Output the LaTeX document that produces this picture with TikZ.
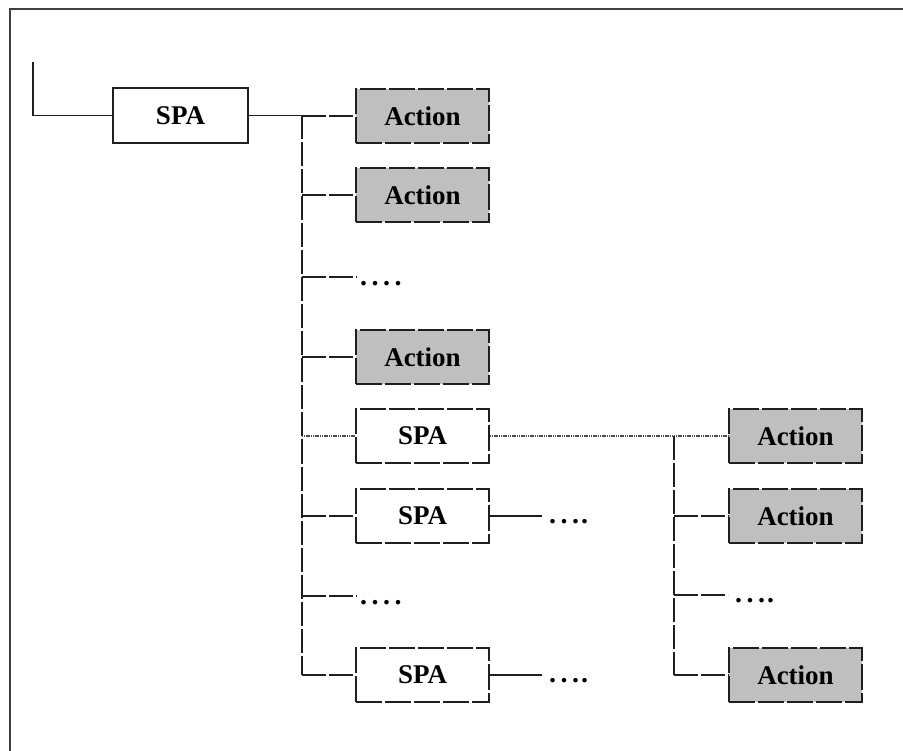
\documentclass[tikz,border=0pt]{standalone}
\usepackage{fontspec}
\setmainfont{Liberation Serif}
\begin{document}
\begin{tikzpicture}[x=1pt,y=-1pt,
  ln/.style={line width=1.9pt, draw=black!88},
  dl/.style={ln, dash pattern=on 24pt off 3pt},
  box/.style={ln, minimum width=133pt, minimum height=54pt, inner sep=0pt,
    font=\fontsize{27}{32}\selectfont\bfseries},
  spabox/.style={box, fill=white, dash pattern=on 26pt off 3pt},
  actbox/.style={box, fill=black!25, dash pattern=on 26pt off 3pt},
  dotsnode/.style={anchor=west, inner sep=0pt, font=\fontsize{28}{32}\selectfont\bfseries},
  fine/.style={line width=1.9pt, draw=black!70, dash pattern=on 1.2pt off 0.6pt}]
\useasboundingbox (0,0) rectangle (903,751);
% outer frame
\draw[line width=2.2pt, draw=black!75] (10,751) -- (10,9) -- (903,9);
% top-level SPA
\node[box, draw, fill=white, minimum width=135pt, minimum height=55pt] (spa0) at (180.5,115.5) {SPA};
\coordinate (in0) at (33,62);
\draw[ln] (in0) |- (spa0.west);
% main trunk
\coordinate (t0) at (302,115.5);
\coordinate (tend) at (302,675);
\draw[ln] (spa0.east) -- (t0);
\draw[dl] (t0) -- (tend);
% children
\node[actbox, draw] (a1) at (422.5,116) {Action};
\node[actbox, draw] (a2) at (422.5,195) {Action};
\node[actbox, draw] (a3) at (422.5,357) {Action};
\node[spabox, draw] (s2) at (422.5,436) {SPA};
\node[spabox, draw] (s3) at (422.5,516) {SPA};
\node[spabox, draw] (s4) at (422.5,675) {SPA};
\coordinate (d1e) at (357,277);
\node[dotsnode] (d1) at (360,284) {.\kern4.5pt.\kern4.5pt.\kern4.5pt.};
\coordinate (d2e) at (357,596);
\node[dotsnode] (d2) at (360,603) {.\kern4.5pt.\kern4.5pt.\kern4.5pt.};
\foreach \n in {a1,a2,a3,s3,s4}{
  \draw[dl] (302,0 |- \n.west) -- (\n.west);
}
\draw[dl] (302,277) -- (d1e);
\draw[dl] (302,596) -- (d2e);
\draw[fine] (302,436) -- (s2.west);
% SPA3 / SPA4 continuations
\coordinate (e3) at (542,516);
\coordinate (e4) at (542,675);
\draw[ln] (s3.east) -- (e3);
\draw[ln] (s4.east) -- (e4);
\node[dotsnode] (d3) at (549,522) {.\kern4.5pt.\kern4.5pt.\kern2pt.};
\node[dotsnode] (d4) at (549,681) {.\kern4.5pt.\kern4.5pt.\kern2pt.};
% second trunk
\coordinate (u0) at (674,436);
\coordinate (uend) at (674,675);
\draw[fine] (s2.east) -- (u0);
\draw[dl] (u0) -- (uend);
\node[actbox, draw] (b1) at (795.5,436) {Action};
\node[actbox, draw] (b2) at (795.5,516) {Action};
\node[actbox, draw] (b4) at (795.5,675) {Action};
\coordinate (d5e) at (728,595);
\node[dotsnode] (d5) at (735,601) {.\kern4.5pt.\kern4.5pt.\kern2pt.};
\draw[fine] (u0) -- (b1.west);
\draw[dl] (674,516) -- (b2.west);
\draw[dl] (674,675) -- (b4.west);
\draw[dl] (674,595) -- (d5e);
\end{tikzpicture}
\end{document}
